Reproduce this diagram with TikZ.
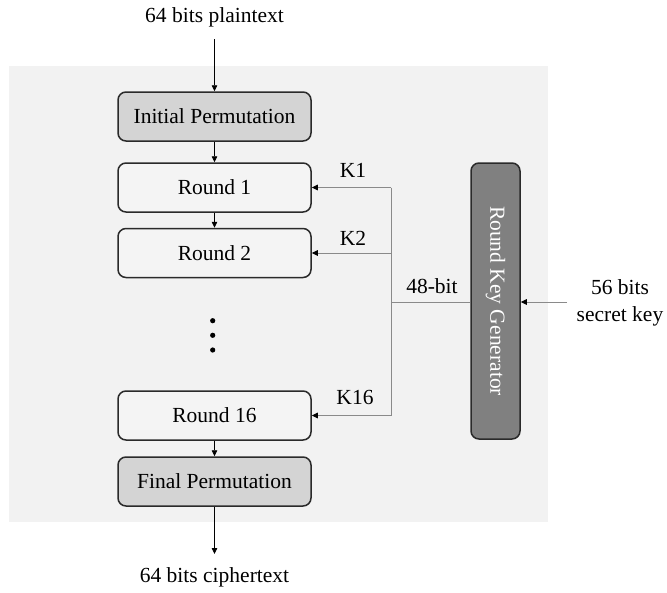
\documentclass[tikz,border=0pt]{standalone}
\usepackage{fontspec}
\setmainfont{Liberation Serif}
\usetikzlibrary{arrows.meta}
\definecolor{panel}{HTML}{F2F2F2}
\definecolor{permfill}{HTML}{D4D4D4}
\definecolor{roundfill}{HTML}{F4F4F4}
\definecolor{keygen}{HTML}{808080}
\definecolor{edge}{HTML}{2A2A2A}
\definecolor{keyline}{HTML}{8A8A8A}
\tikzset{
  every node/.style={font=\fontsize{21.5}{27}\selectfont},
  stagebox/.style={draw=edge, line width=1.5pt, rounded corners=8pt,
    minimum width=193pt, minimum height=49pt, inner sep=0pt},
  permbox/.style={stagebox, fill=permfill},
  roundbox/.style={stagebox, fill=roundfill},
  genbox/.style={draw=edge, line width=1.5pt, rounded corners=8pt, fill=keygen,
    minimum width=49pt, minimum height=276pt, inner sep=0pt},
  flow/.style={draw=black, line width=0.8pt, -{Triangle[length=6pt,width=5.5pt]}},
  keyflow/.style={draw=keyline, line width=1pt, -{Triangle[length=6pt,width=5.5pt,color=black,fill=black]}},
  keybus/.style={draw=keyline, line width=1pt},
  lbl/.style={inner sep=0pt}
}
\begin{document}
\begin{tikzpicture}[x=1pt, y=-1pt]
\useasboundingbox (0,0) rectangle (667,592);
% shaded panel behind the cipher
\fill[panel] (9,66) rectangle (548,522);

% main data path
\node[lbl] (pt) at (214.5,17) {64 bits plaintext};
\coordinate (ptin) at (214.5,39);
\node[permbox] (ip) at (214.5,116.5) {Initial Permutation};
\node[roundbox] (r1) at (214.5,187.5) {Round 1};
\node[roundbox] (r2) at (214.5,253) {Round 2};
\node[roundbox] (r16) at (214.5,415.5) {Round 16};
\node[permbox] (fp) at (214.5,481.5) {Final Permutation};
\coordinate (ctout) at (214.5,554);
\node[lbl] (ct) at (214.5,577) {64 bits ciphertext};

\draw[flow] (ptin) -- (ip.north);
\draw[flow] (ip.south) -- (r1.north);
\draw[flow] (r1.south) -- (r2.north);
\draw[flow] (r16.south) -- (fp.north);
\draw[flow] (fp.south) -- (ctout);

% ellipsis between round 2 and round 16
\foreach \yy/\nm in {320.7/d1,335.3/d2,350/d3}
  \fill (212.7,\yy) circle (2.6pt) coordinate (\nm);

% key schedule
\node[genbox] (rkg) at (495.5,301) {};
\node[lbl, rotate=-90, text=white] (rkgt) at (rkg.center) {Round Key Generator};

\coordinate (j1) at (391,187.5);
\coordinate (j2) at (391,253);
\coordinate (j48) at (391,302);
\coordinate (j16) at (391,415.5);

\draw[keybus] (j1) -- (j16);
\draw[keybus] (rkg.west |- j48) -- (j48);
\draw[keyflow] (j1) -- (r1.east);
\draw[keyflow] (j2) -- (r2.east);
\draw[keyflow] (j16) -- (r16.east);

\node[lbl] (k1) at (353,170) {K1};
\node[lbl] (k2) at (353,238) {K2};
\node[lbl] (k16) at (355,397) {K16};
\node[lbl] (b48) at (432,286) {48-bit};

% external key input
\coordinate (skin) at (567,302);
\draw[keyflow] (skin) -- (rkg.east |- skin);
\node[lbl, align=center] (sk) at (620,303) {56 bits\\secret key};
\end{tikzpicture}
\end{document}
